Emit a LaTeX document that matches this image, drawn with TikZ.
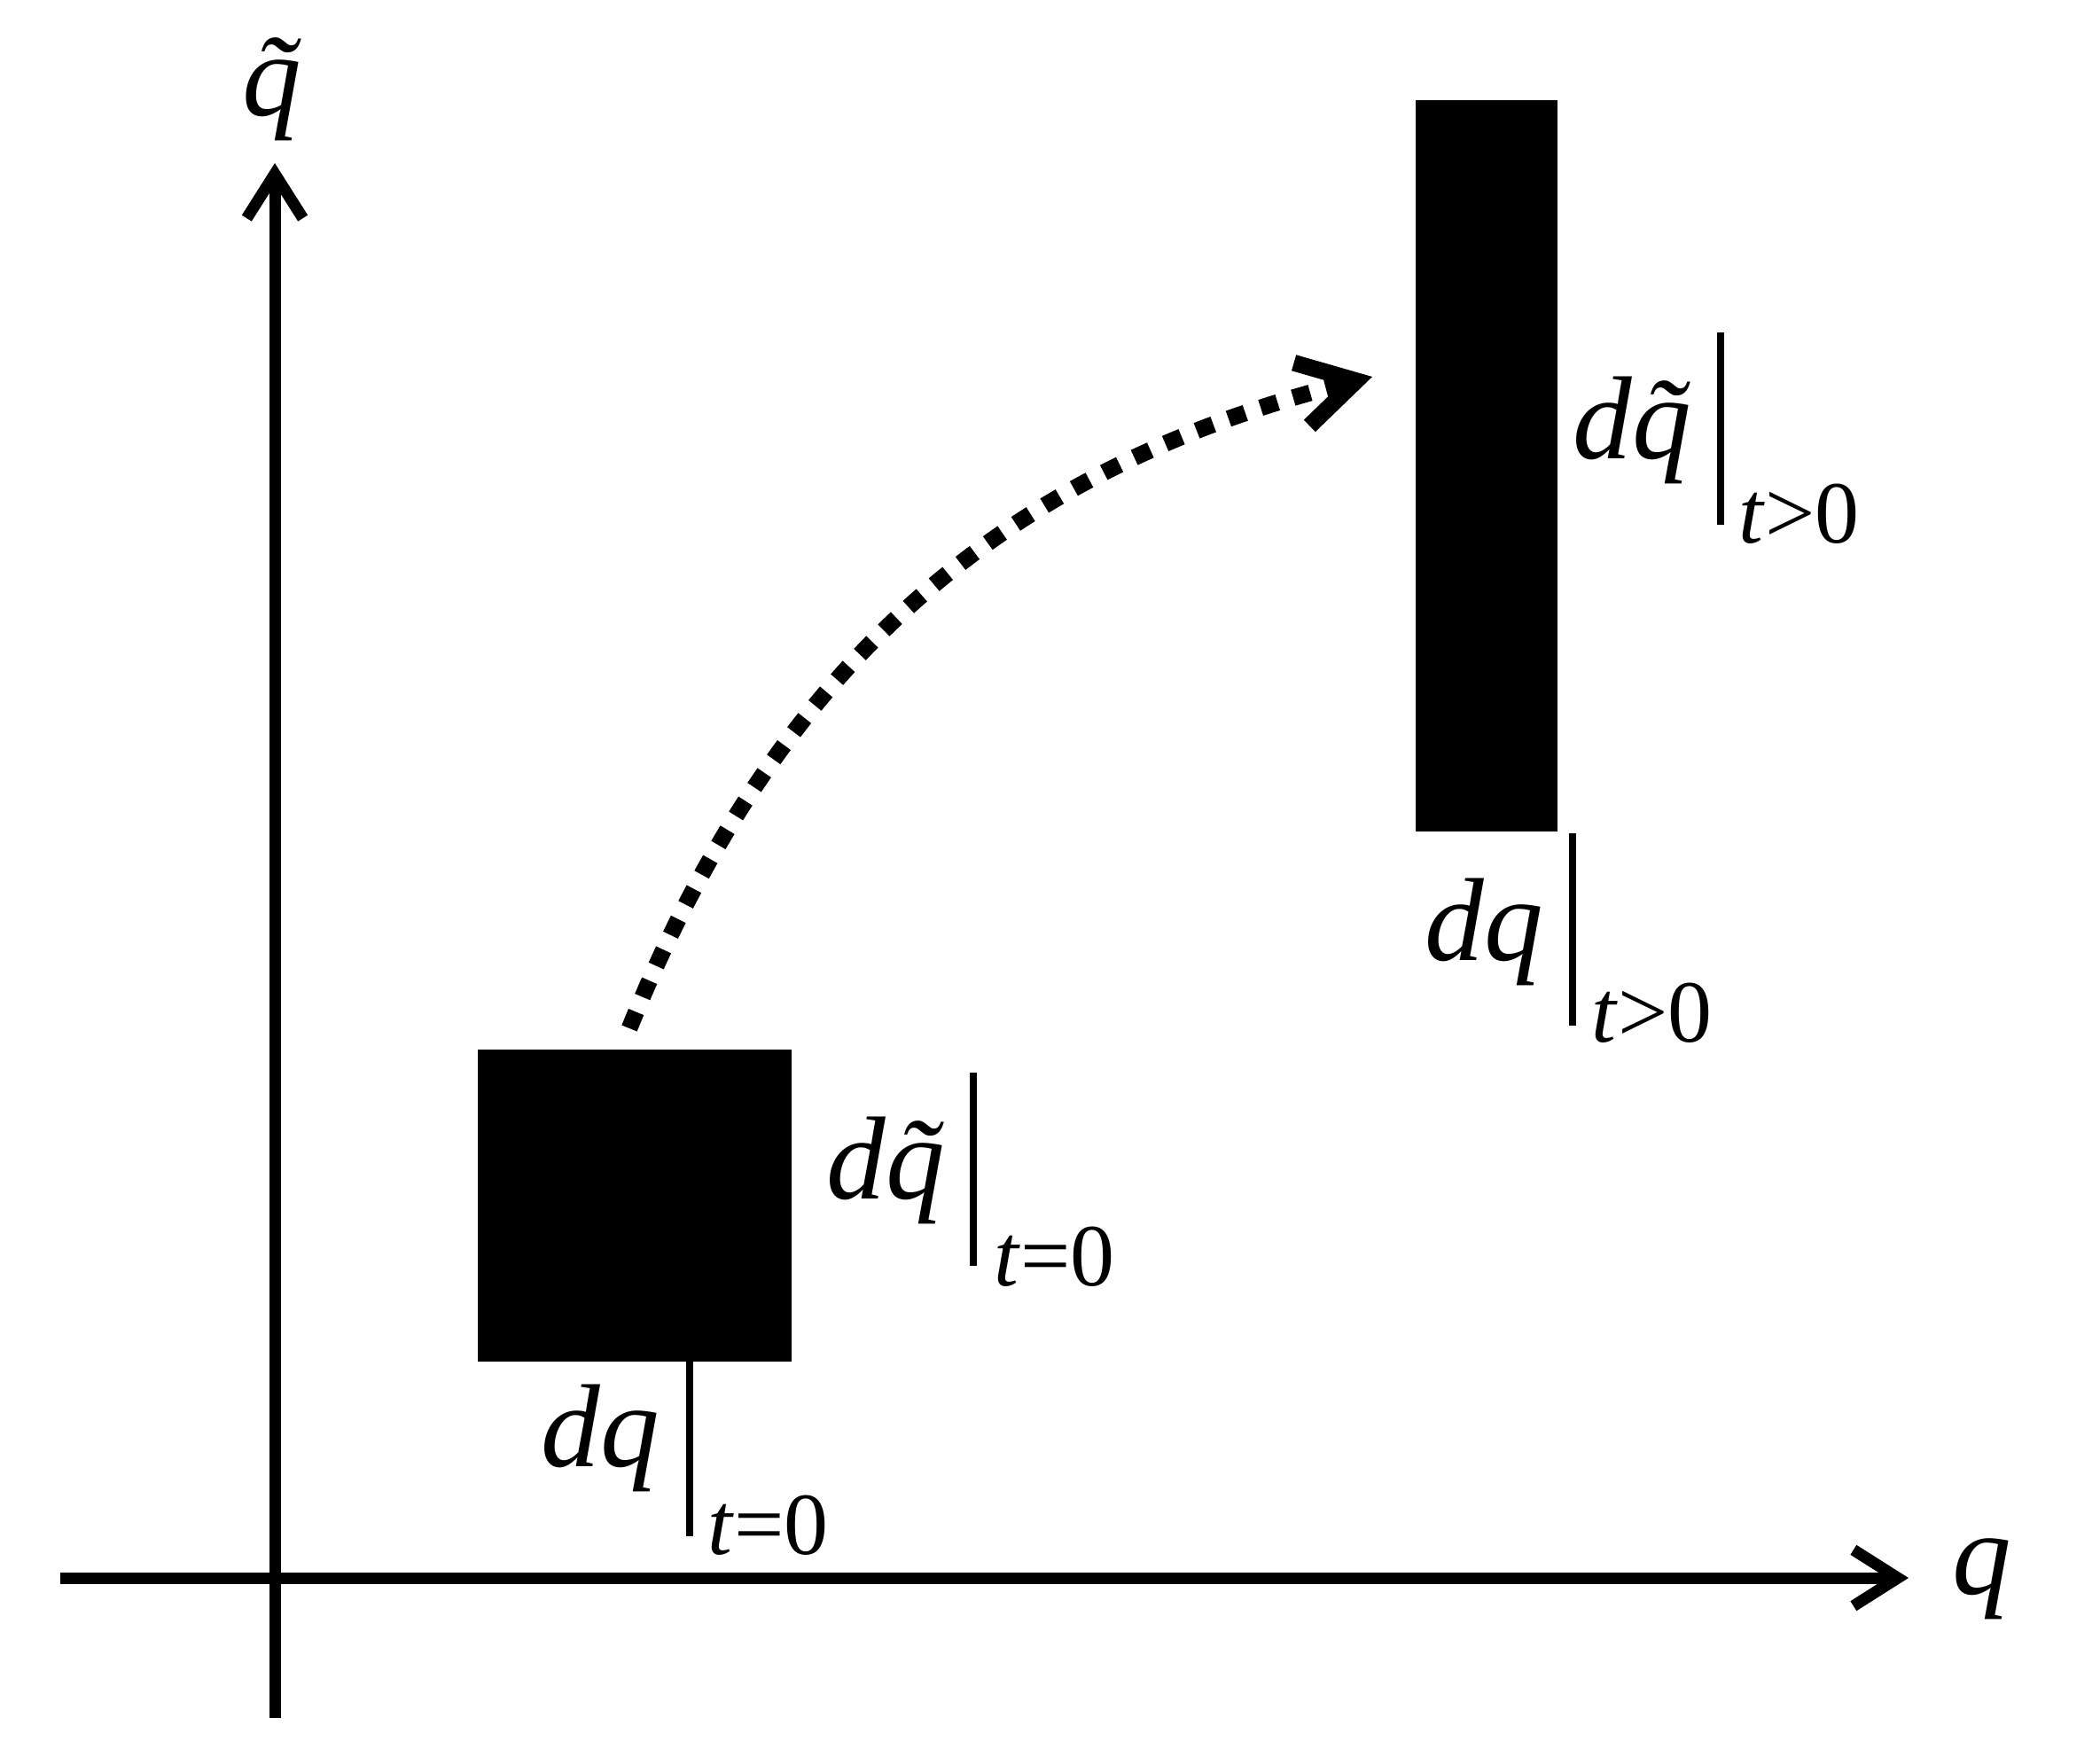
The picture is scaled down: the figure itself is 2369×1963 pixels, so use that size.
\documentclass[tikz,border=0pt]{standalone}
\usepackage{fontspec}
\setmainfont{Liberation Serif}
\usetikzlibrary{arrows.meta}
\begin{document}
\begin{tikzpicture}[x=0.3pt,y=-0.3pt,
  axisline/.style={line width=3.9pt,-{Straight Barb[length=15pt,width=19pt]}},
  flowline/.style={line width=5.6pt,dash pattern=on 6pt off 5.5pt,-{Straight Barb[length=19pt,width=22pt]}},
  barline/.style={line width=2.4pt},
  blockfill/.style={fill=black},
  mainlbl/.style={inner sep=0pt,anchor=base,font=\fontsize{40}{45}\selectfont\itshape},
  sublbl/.style={inner sep=0pt,anchor=base west,font=\fontsize{30}{35}\selectfont}
]
\useasboundingbox (0,0) rectangle (2369,1963);
% axes
\coordinate (xl) at (68,1780);
\coordinate (xr) at (2153,1780);
\coordinate (yb) at (310,1938);
\coordinate (yt) at (310,184);
\draw[axisline] (xl) -- (xr);
\draw[axisline] (yb) -- (yt);
\node[mainlbl] (qlab) at (2236,1798) {q};
\node[mainlbl] (qtlab) at (307,130) {\~{q}};
% small block
\coordinate (b0a) at (539,1184);
\coordinate (b0b) at (893,1536);
\fill[blockfill] (b0a) rectangle (b0b);
% big block
\coordinate (b1a) at (1597,113);
\coordinate (b1b) at (1757,938);
\fill[blockfill] (b1a) rectangle (b1b);
% labels t=0
\coordinate (l1a) at (778,1536);
\coordinate (l1b) at (778,1733);
\draw[barline] (l1a) -- (l1b);
\node[mainlbl] (dq0) at (677,1654) {dq};
\node[sublbl] (dq0s) at (798,1753) {\textit{t}=0};
\coordinate (l2a) at (1098,1210);
\coordinate (l2b) at (1098,1428);
\draw[barline] (l2a) -- (l2b);
\node[mainlbl] (dqt0) at (999,1352) {d\~{q}};
\node[sublbl] (dqt0s) at (1121,1450) {\textit{t}=0};
% labels t>0
\coordinate (l3a) at (1774,940);
\coordinate (l3b) at (1774,1157);
\draw[barline] (l3a) -- (l3b);
\node[mainlbl] (dq1) at (1674,1083) {dq};
\node[sublbl] (dq1s) at (1795,1175) {\textit{t}>0};
\coordinate (l4a) at (1941,375);
\coordinate (l4b) at (1941,592);
\draw[barline] (l4a) -- (l4b);
\node[mainlbl] (dqt1) at (1841,517) {d\~{q}};
\node[sublbl] (dqt1s) at (1961,612) {\textit{t}>0};
% flow arrow
\coordinate (fs) at (710,1160);
\coordinate (fe) at (1548,425);
\draw[flowline] (fs) to[out=68,in=194] (fe);
\end{tikzpicture}
\end{document}
